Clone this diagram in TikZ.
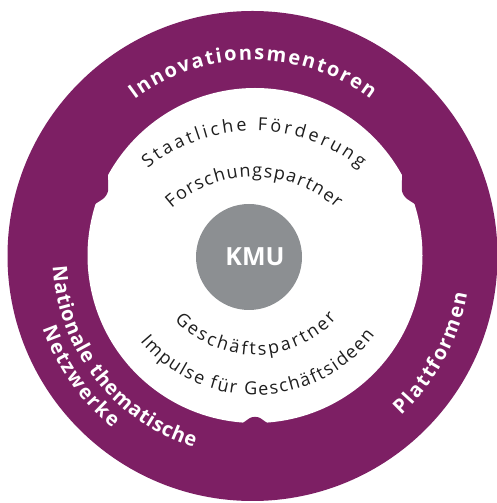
\documentclass[tikz,border=0pt]{standalone}
\usepackage{fontspec}
\setmainfont{Open Sans}
\usetikzlibrary{decorations.text,calc}
\definecolor{ringpurple}{RGB}{125,31,100}
\definecolor{kmugrey}{RGB}{140,143,146}
\definecolor{inktext}{RGB}{30,30,30}
\begin{document}
\begin{tikzpicture}[x=1pt,y=1pt,
  ringlabel/.style={decorate, decoration={text along path, text align={fit to path}, text color=white,
     text={|\bfseries\fontsize{20}{20}\selectfont|#1}}},
  innerlabel/.style={decorate, decoration={text along path, text align={fit to path}, text color=inktext,
     text={|\fontsize{18}{18}\selectfont|#1}}},
  tooth/.style={fill=ringpurple, rounded corners=2.5pt}]
\fill[white] (0,0) rectangle (497,503);
\useasboundingbox (0,0) rectangle (497,503);
\coordinate (O) at (252.5,247);
\coordinate (I) at (255,247.5);
\coordinate (U) at (254,203);
\coordinate (L) at (255,258);
% ring
\node[circle, fill=ringpurple, minimum size=490pt, inner sep=0pt] (outer) at (O) {};
\node[circle, fill=white, minimum size=335pt, inner sep=0pt] (inner) at (I) {};
% teeth at segment boundaries
\path[tooth] ($(I)+(150:170)$) -- ($(I)+(156.5:160)$) -- ($(I)+(159:161)$) -- ($(I)+(163:170)$) -- cycle;
\path[tooth] ($(I)+(30:170)$) -- ($(I)+(23.5:160)$) -- ($(I)+(21:161)$) -- ($(I)+(17:170)$) -- cycle;
\path[tooth] ($(I)+(265:170)$) -- ($(I)+(268.7:161.5)$) -- ($(I)+(271.3:161.5)$) -- ($(I)+(275:170)$) -- cycle;
% centre
\node[circle, fill=kmugrey, minimum size=106pt, inner sep=0pt] (kmu) at (249,246) {};
\node[text=white, font=\bfseries\fontsize{25}{25}\selectfont, inner sep=0pt] (kmulabel) at (255,246) {KMU};
% ring labels
\path[ringlabel={Innovationsmentoren}] ($(O)+(127:196)$) arc[start angle=127, end angle=53, radius=196];
\path[ringlabel={Nationale thematische}] ($(O)+(183:200)$) arc[start angle=183, end angle=253, radius=200];
\path[ringlabel={Netzwerke}] ($(O)+(199:222)$) arc[start angle=199, end angle=231, radius=222];
\path[ringlabel={Plattformen}] ($(O)+(313:218)$) arc[start angle=313, end angle=350, radius=218];
% inner labels
\path[innerlabel={Staatliche Förderung}] ($(U)+(129:169)$) arc[start angle=129, end angle=51, radius=169];
\path[innerlabel={Forschungspartner}] ($(U)+(132:123)$) arc[start angle=132, end angle=48, radius=123];
\path[innerlabel={Geschäftspartner}] ($(L)+(223:110)$) arc[start angle=223, end angle=318, radius=110];
\path[innerlabel={Impulse für Geschäftsideen}] ($(L)+(220:150)$) arc[start angle=220, end angle=323, radius=150];
\end{tikzpicture}
\end{document}
